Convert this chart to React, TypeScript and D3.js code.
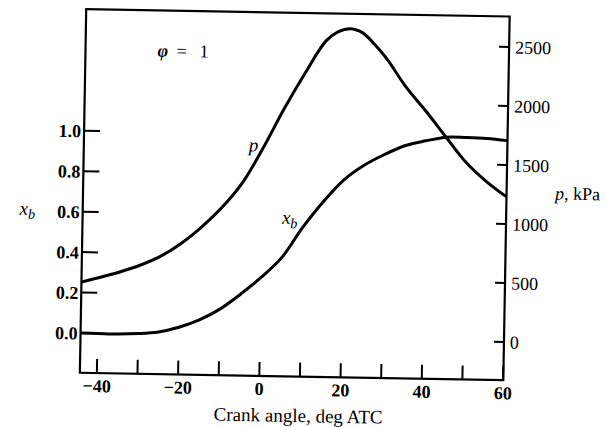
import React from "react";
import * as d3 from "d3";

const angleP = [-44.2, -40, -35, -30, -25, -20, -15, -10, -5, 0, 5, 10, 15, 18, 21, 24, 27, 30, 35, 40, 45, 50, 55, 60];
const pressure = [445, 484, 534, 594, 672, 783, 925, 1095, 1310, 1610, 1945, 2250, 2525, 2605, 2632, 2598, 2501, 2383, 2140, 1939, 1724, 1515, 1359, 1232];

const angleXb = [-44.2, -40, -35, -30, -25, -20, -15, -10, -5, 0, 5, 10, 15, 20, 25, 30, 35, 40, 45, 50, 55, 60];
const massBurned = [0.0, -0.001, -0.002, 0.002, 0.012, 0.037, 0.075, 0.13, 0.205, 0.29, 0.39, 0.54, 0.67, 0.78, 0.855, 0.91, 0.955, 0.98, 1.0, 1.0, 0.997, 0.988];

const xTicks = [-40, -30, -20, -10, 0, 10, 20, 30, 40, 50, 60];
const xTickLabels = [-40, -20, 0, 20, 40, 60];
const xbTicks = [0, 0.2, 0.4, 0.6, 0.8, 1.0];
const pTicks = [0, 500, 1000, 1500, 2000, 2500];

const FONT = "'Liberation Serif', 'Times New Roman', serif";

export default function App() {
  const left = 83, right = 506.5, top = 12.8, bottom = 376.5;
  const x = d3.scaleLinear().domain([-40, 60]).range([100, 506.2]);
  const yXb = d3.scaleLinear().domain([0, 1]).range([336.7, 134.5]);
  const yP = d3.scaleLinear().domain([0, 2500]).range([338.3, 43.3]);

  const pLine = d3
    .line<number>()
    .x((_, i) => x(angleP[i]))
    .y((d) => yP(d))
    .curve(d3.curveCatmullRom.alpha(0.5))(pressure) as string;
  const xbLine = d3
    .line<number>()
    .x((_, i) => x(angleXb[i]))
    .y((d) => yXb(d))
    .curve(d3.curveCatmullRom.alpha(0.5))(massBurned) as string;

  const minus = (v: number) => (v < 0 ? "\u2212" + Math.abs(v) : String(v));

  return (
    <svg
      width={606}
      height={427}
      style={{ position: "absolute", left: 0, top: 0, background: "#fff" }}
      fontFamily={FONT}
    >
      <rect x={0} y={0} width={606} height={427} fill="#fff" />
      <g transform="rotate(1, 295, 195)">
        {/* frame */}
        <rect x={left} y={top} width={right - left} height={bottom - top} fill="none" stroke="#000" strokeWidth={2.2} />
        {/* bottom ticks */}
        {xTicks.map((t) => (
          <line key={"xt" + t} x1={x(t)} x2={x(t)} y1={bottom} y2={bottom - 14} stroke="#000" strokeWidth={2} />
        ))}
        {xTickLabels.map((t) => (
          <text key={"xl" + t} x={x(t)} y={395.5} textAnchor="middle" fontSize={18} fontWeight="bold">
            {minus(t)}
          </text>
        ))}
        {/* left ticks */}
        {xbTicks.map((t) => (
          <line key={"lt" + t} x1={left} x2={left + 16} y1={yXb(t)} y2={yXb(t)} stroke="#000" strokeWidth={2} />
        ))}
        {xbTicks.map((t) => (
          <text key={"ll" + t} x={left - 3} y={yXb(t)} dy="0.36em" textAnchor="end" fontSize={18} fontWeight="bold">
            {d3.format(".1f")(t)}
          </text>
        ))}
        {/* right ticks */}
        {pTicks.map((t) => (
          <line key={"rt" + t} x1={right} x2={right - 10} y1={yP(t)} y2={yP(t)} stroke="#000" strokeWidth={2} />
        ))}
        {pTicks.map((t) => (
          <text key={"rl" + t} x={right + 6} y={yP(t)} dy="0.36em" textAnchor="start" fontSize={18}>
            {t}
          </text>
        ))}
        {/* curves */}
        <path d={pLine} fill="none" stroke="#000" strokeWidth={3} />
        <path d={xbLine} fill="none" stroke="#000" strokeWidth={3} />
        {/* labels */}
        <text y={59} fontSize={18}>
          <tspan x={155} fontWeight="bold" fontStyle="italic">φ</tspan>
          <tspan x={174}>=</tspan>
          <tspan x={197}>1</tspan>
        </text>
        <text x={248} y={152} fontSize={19} fontStyle="italic">p</text>
        <text x={282.5} y={224} fontSize={19} fontStyle="italic">
          x<tspan fontSize={14} dy={4}>b</tspan>
        </text>
        <text x={20} y={219.5} fontSize={19} fontStyle="italic">
          x<tspan fontSize={14} dy={4}>b</tspan>
        </text>
        <text x={555} y={195} fontSize={18}>
          <tspan fontStyle="italic">p</tspan>, kPa
        </text>
        <text x={302} y={422} textAnchor="middle" fontSize={19}>
          Crank angle, deg ATC
        </text>
      </g>
    </svg>
  );
}
